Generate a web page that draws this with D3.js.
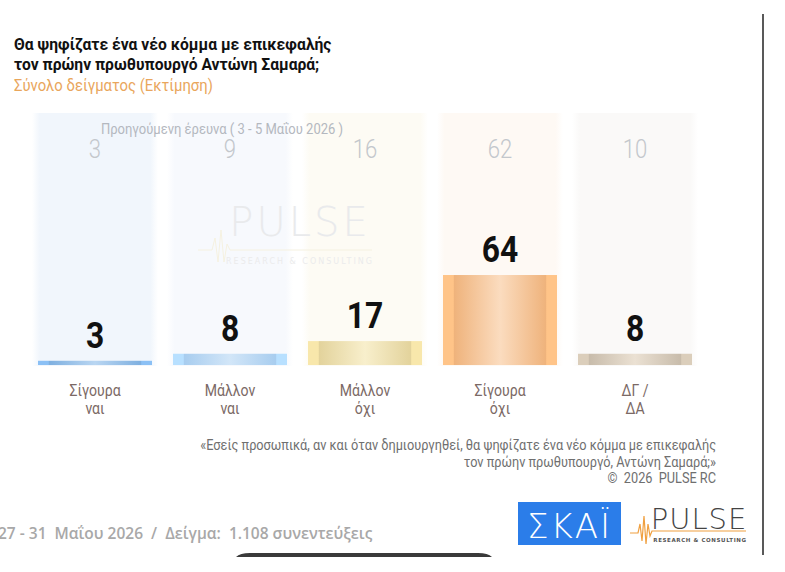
<!DOCTYPE html>
<html>
<head>
<meta charset="utf-8">
<script src="https://cdn.jsdelivr.net/npm/d3@7"></script>
<style>
  body { margin: 0; background: #fff; }
  svg { display: block; }
  .narrow { font-family: "Roboto", "Liberation Sans", sans-serif; }
</style>
</head>
<body>
<div id="chart"></div>
<script>
// data
const categories = ["Σίγουρα|ναι", "Μάλλον|ναι", "Μάλλον|όχι", "Σίγουρα|όχι", "ΔΓ /|ΔΑ"];
const current = [3, 8, 17, 64, 8];
const previous = [3, 9, 16, 62, 10];

const barColors = [
  ["#7fb0e0", "#b9d6f2"],
  ["#a8cdef", "#d2e6f8"],
  ["#e3d39c", "#f8efcc"],
  ["#efb37c", "#fbdcbf"],
  ["#c8bcab", "#ebe1d3"]
];
const colColors = ["#f1f6fc", "#f7f9fd", "#fdfbf4", "#fef9f4", "#faf9f8"];

const W = 785, H = 572;

const svg = d3.select("#chart")
              .append("svg")
              .attr("width", W)
              .attr("height", H);

const defs = svg.append("defs");

// condensed look: squeeze text horizontally around its anchor point
function squeeze(sel, x, y, sx) {
    return sel.attr("transform", "translate(" + x + "," + y + ") scale(" + sx + ",1)");
}

barColors.forEach(function(c, i) {
    let g = defs.append("linearGradient")
                .attr("id", "bar" + i)
                .attr("x1", "0").attr("x2", "1").attr("y1", "0").attr("y2", "0");
    g.append("stop").attr("offset", "0").attr("stop-color", d3.color(c[0]).brighter(0.25));
    g.append("stop").attr("offset", "0.09").attr("stop-color", d3.color(c[0]).brighter(0.25));
    g.append("stop").attr("offset", "0.1").attr("stop-color", c[0]);
    g.append("stop").attr("offset", "0.5").attr("stop-color", c[1]);
    g.append("stop").attr("offset", "0.9").attr("stop-color", c[0]);
    g.append("stop").attr("offset", "0.91").attr("stop-color", d3.color(c[0]).brighter(0.25));
    g.append("stop").attr("offset", "1").attr("stop-color", d3.color(c[0]).brighter(0.25));
});

colColors.forEach(function(c, i) {
    let g = defs.append("linearGradient")
                .attr("id", "col" + i)
                .attr("x1", "0").attr("x2", "1").attr("y1", "0").attr("y2", "0");
    g.append("stop").attr("offset", "0").attr("stop-color", "#ffffff");
    g.append("stop").attr("offset", "0.06").attr("stop-color", c);
    g.append("stop").attr("offset", "0.94").attr("stop-color", c);
    g.append("stop").attr("offset", "1").attr("stop-color", "#ffffff");
});

// scales
let x = d3.scaleBand()
          .domain(categories)
          .range([27.5, 702.5])
          .padding(0);

let y = d3.scaleLinear()
          .domain([0, 100])
          .range([365, 224.4]);

const step = x.step();
const colW = 126, barW = 114;

// background columns (previous survey)
svg.append("g")
   .selectAll("rect")
   .data(categories)
   .enter()
   .append("rect")
   .attr("x", function(d) { return x(d) + (step - colW) / 2; })
   .attr("y", 113)
   .attr("width", colW)
   .attr("height", 253)
   .attr("fill", function(d, i) { return "url(#col" + i + ")"; });

// watermark
const wm = svg.append("g");
wm.append("text")
  .attr("x", 300)
  .attr("y", 236)
  .attr("text-anchor", "middle")
  .attr("font-family", "DejaVu Sans, sans-serif")
  .attr("font-weight", 200)
  .attr("font-size", 40)
  .attr("letter-spacing", 3)
  .attr("fill", "#e9eaec")
  .text("PULSE");
wm.append("path")
  .attr("d", "M198,250 L212,250 L215,238 L218,262 L221,230 L224,262 L227,244 L230,250 L372,250")
  .attr("fill", "none")
  .attr("stroke", "#f5f1e0")
  .attr("stroke-width", 1);
wm.append("text")
  .attr("x", 300)
  .attr("y", 264)
  .attr("text-anchor", "middle")
  .attr("font-family", "DejaVu Sans, sans-serif")
  .attr("font-size", 8)
  .attr("letter-spacing", 2)
  .attr("fill", "#ebebec")
  .text("RESEARCH & CONSULTING");

// previous survey label and values
squeeze(svg.append("text"), 222, 134, 0.93)
   .attr("text-anchor", "middle")
   .attr("class", "narrow")
   .attr("font-size", 14)
   .attr("fill", "#b4b8bf")
   .text("Προηγούμενη έρευνα ( 3 - 5 Μαΐου 2026 )");

svg.append("g")
   .selectAll("text")
   .data(previous)
   .enter()
   .append("text")
   .each(function(d, i) { squeeze(d3.select(this), x(categories[i]) + step / 2, 158, 0.85); })
   .attr("text-anchor", "middle")
   .attr("class", "narrow")
   .attr("font-weight", 300)
   .attr("font-size", 26)
   .attr("fill", "#c3c7cc")
   .text(function(d) { return d; });

// bars
svg.append("g")
   .selectAll("rect")
   .data(current)
   .enter()
   .append("rect")
   .attr("x", function(d, i) { return x(categories[i]) + (step - barW) / 2; })
   .attr("y", function(d) { return y(d); })
   .attr("width", barW)
   .attr("height", function(d) { return y(0) - y(d); })
   .attr("fill", function(d, i) { return "url(#bar" + i + ")"; });

// value labels
svg.append("g")
   .selectAll("text")
   .data(current)
   .enter()
   .append("text")
   .each(function(d, i) { squeeze(d3.select(this), x(categories[i]) + step / 2, y(d) - 13, 0.86); })
   .attr("text-anchor", "middle")
   .attr("class", "narrow")
   .attr("font-weight", "bold")
   .attr("font-size", 37)
   .attr("fill", "#111")
   .text(function(d) { return d; });

// category labels
let catLabels = svg.append("g")
   .selectAll("text")
   .data(categories)
   .enter()
   .append("text")
   .each(function(d) { squeeze(d3.select(this), x(d) + step / 2, 396, 0.88); })
   .attr("text-anchor", "middle")
   .attr("class", "narrow")
   .attr("font-size", 16)
   .attr("fill", "#7b6965");

catLabels.selectAll("tspan")
   .data(function(d) { return d.split("|"); })
   .enter()
   .append("tspan")
   .attr("x", 0)
   .attr("dy", function(d, i) { return i == 0 ? 0 : 18; })
   .text(function(d) { return d; });

// title
squeeze(svg.append("text"), 14, 50, 0.95)
   .attr("class", "narrow")
   .attr("font-weight", "bold")
   .attr("font-size", 16.5)
   .attr("fill", "#111")
   .text("Θα ψηφίζατε ένα νέο κόμμα με επικεφαλής");
squeeze(svg.append("text"), 14, 70, 0.95)
   .attr("class", "narrow")
   .attr("font-weight", "bold")
   .attr("font-size", 16.5)
   .attr("fill", "#111")
   .text("τον πρώην πρωθυπουργό Αντώνη Σαμαρά;");
squeeze(svg.append("text"), 14, 91, 0.9)
   .attr("class", "narrow")
   .attr("font-size", 16.5)
   .attr("fill", "#e9a65c")
   .text("Σύνολο δείγματος (Εκτίμηση)");

// footnote
const notes = ["«Εσείς προσωπικά, αν και όταν δημιουργηθεί, θα ψηφίζατε ένα νέο κόμμα με επικεφαλής",
               "τον πρώην πρωθυπουργό, Αντώνη Σαμαρά;»",
               "©  2026  PULSE RC"];
svg.append("g")
   .selectAll("text")
   .data(notes)
   .enter()
   .append("text")
   .each(function(d, i) { squeeze(d3.select(this), 716, 450 + i * 16.5, 0.91); })
   .attr("text-anchor", "end")
   .attr("class", "narrow")
   .attr("font-size", 14)
   .attr("fill", "#6f6f6f")
   .attr("xml:space", "preserve")
   .text(function(d) { return d; });

// fieldwork / sample
svg.append("text")
   .attr("x", -2)
   .attr("y", 539)
   .attr("font-family", "Open Sans, sans-serif")
   .attr("font-weight", 600)
   .attr("font-size", 15.5)
   .attr("fill", "#a8a8a8")
   .attr("xml:space", "preserve")
   .text("27 - 31  Μαΐου 2026  /  Δείγμα:  1.108 συνεντεύξεις");

// SKAI logo
svg.append("rect")
   .attr("x", 518).attr("y", 502)
   .attr("width", 103).attr("height", 43)
   .attr("fill", "#2b7de9");
svg.append("text")
   .attr("x", 569.5)
   .attr("y", 538)
   .attr("text-anchor", "middle")
   .attr("font-family", "DejaVu Sans, sans-serif")
   .attr("font-weight", 200)
   .attr("font-size", 34)
   .attr("letter-spacing", 2)
   .attr("fill", "#fff")
   .text("ΣΚΑΪ");

// PULSE logo
svg.append("text")
   .attr("x", 699)
   .attr("y", 529)
   .attr("text-anchor", "middle")
   .attr("font-family", "DejaVu Sans, sans-serif")
   .attr("font-weight", 200)
   .attr("font-size", 29)
   .attr("letter-spacing", 1)
   .attr("fill", "#444")
   .text("PULSE");
svg.append("path")
   .attr("d", "M630,533 L638,533 L640,524 L642,541 L644,516 L646,544 L648,524 L650,536 L652,531 L746,531")
   .attr("fill", "none")
   .attr("stroke", "#f0a040")
   .attr("stroke-width", 1.2);
svg.append("text")
   .attr("x", 700)
   .attr("y", 542)
   .attr("text-anchor", "middle")
   .attr("font-family", "DejaVu Sans, sans-serif")
   .attr("font-weight", "bold")
   .attr("font-size", 5.5)
   .attr("letter-spacing", 0.6)
   .attr("fill", "#555")
   .text("RESEARCH & CONSULTING");

// frame line on the right and dark strip at the bottom
svg.append("line")
   .attr("x1", 763).attr("x2", 763)
   .attr("y1", 14).attr("y2", 555)
   .attr("stroke", "#222")
   .attr("stroke-width", 1.5);
svg.append("path")
   .attr("d", "M236,557 Q240,553 250,553 L478,553 Q488,553 492,557 Z")
   .attr("fill", "#3a3a3a");
</script>
</body>
</html>
